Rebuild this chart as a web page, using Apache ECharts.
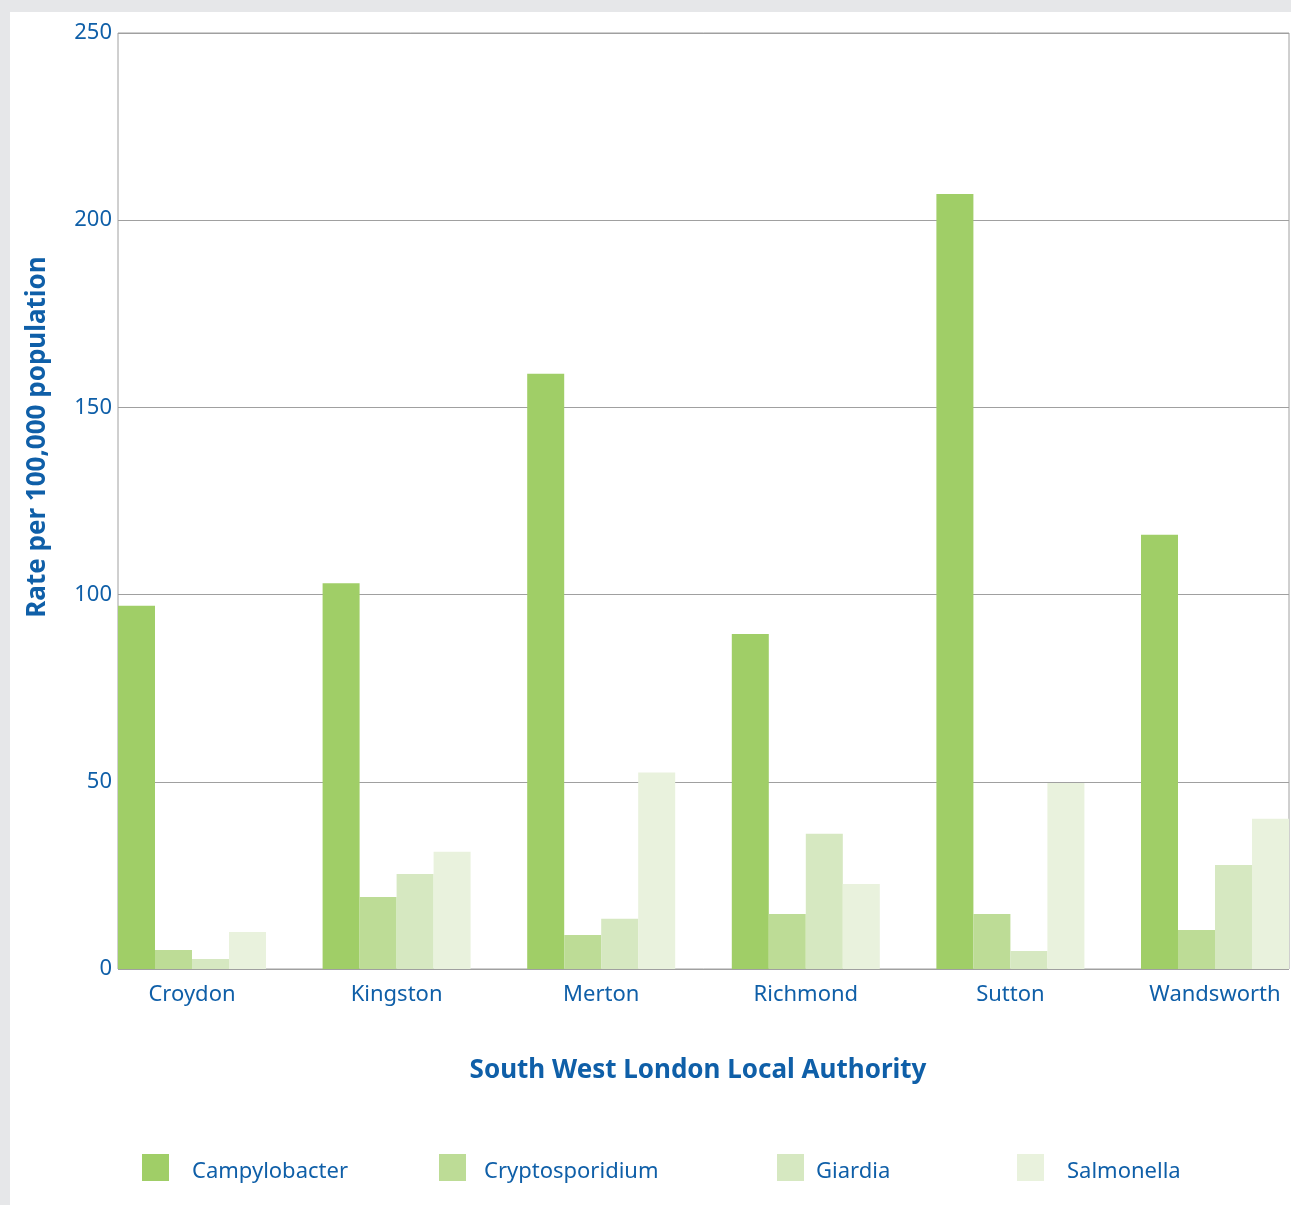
<!DOCTYPE html>
<html>
<head>
<meta charset="utf-8">
<title>Rates per 100,000 population by South West London Local Authority</title>
<script src="https://cdn.jsdelivr.net/npm/echarts@6/dist/echarts.min.js"></script>
<style>
  html, body { margin: 0; padding: 0; background: #e6e7e9; overflow: hidden; width: 1291px; height: 1205px; }
  #panel { position: absolute; left: 10px; top: 12px; width: 1281px; height: 1193px; background: #ffffff; }
  /* canvas runs past the right edge so the last bar group can reach the frame */
  #chart { position: absolute; left: 0; top: 0; width: 1360px; height: 1205px; }
</style>
</head>
<body>
<div id="panel"></div>
<div id="chart"></div>
<script>
// Local authorities along the x axis
const authorities = ['Croydon', 'Kingston', 'Merton', 'Richmond', 'Sutton', 'Wandsworth'];

// Rate per 100,000 population for each organism
const campylobacter    = [97, 103, 159, 89.5, 207, 116];
const cryptosporidium  = [5.1, 19.2, 9.1, 14.7, 14.7, 10.4];
const giardia          = [2.7, 25.4, 13.4, 36.1, 4.8, 27.8];
const salmonella       = [9.9, 31.3, 52.5, 22.7, 49.7, 40.1];

// Value axis ticks
const yTicks = [0, 50, 100, 150, 200, 250];

const seriesNames  = ['Campylobacter', 'Cryptosporidium', 'Giardia', 'Salmonella'];
const seriesData   = [campylobacter, cryptosporidium, giardia, salmonella];
const seriesColors = ['#a0ce67', '#bddc96', '#d6e8c1', '#e9f2dd'];

const BLUE = '#0f5fa8';
const FONT = '"Noto Sans", "Open Sans", sans-serif';

const chart = echarts.init(document.getElementById('chart'), null, { renderer: 'canvas' });

// Frame grid (border, gridlines, y labels) and bar grid (groups centred on labels)
const plotLeft = 118, plotTop = 33, plotWidth = 1171, plotHeight = 936;
const band = 204.6;
const barsLeft = plotLeft - (band - 148) / 2;

// Legend entries each sit at their own horizontal position
const legendSpots = [
  { left: 142, gap: 18 },
  { left: 439, gap: 13 },
  { left: 777, gap: 7 },
  { left: 1017, gap: 18 }
];

const option = {
  backgroundColor: 'transparent',
  animation: false,
  textStyle: { fontFamily: FONT },
  grid: [
    {
      left: plotLeft, top: plotTop, width: plotWidth, height: plotHeight,
      show: true, borderColor: '#a0a0a0', borderWidth: 1, backgroundColor: 'transparent'
    },
    {
      left: barsLeft, top: plotTop, width: band * authorities.length, height: plotHeight
    }
  ],
  xAxis: [
    { gridIndex: 0, type: 'value', min: 0, max: 1, show: false },
    {
      gridIndex: 1, type: 'category', data: authorities,
      axisLine: { show: false }, axisTick: { show: false }, splitLine: { show: false },
      axisLabel: { color: BLUE, fontSize: 22, fontFamily: FONT, margin: 15 }
    }
  ],
  yAxis: [
    {
      gridIndex: 0, type: 'value', min: yTicks[0], max: yTicks[yTicks.length - 1], interval: 50,
      axisLine: { show: false }, axisTick: { show: false },
      axisLabel: { color: BLUE, fontSize: 22, fontFamily: FONT, margin: 6, padding: [0, 0, 6, 0] },
      splitLine: { show: true, lineStyle: { color: '#a0a0a0', width: 1.2 } }
    },
    {
      gridIndex: 1, type: 'value', min: yTicks[0], max: yTicks[yTicks.length - 1], show: false
    }
  ],
  legend: seriesNames.map((name, i) => ({
    data: [name],
    left: legendSpots[i].left, top: 1154,
    padding: 0,
    orient: 'horizontal',
    itemWidth: 27, itemHeight: 27,
    icon: 'rect',
    selectedMode: false,
    formatter: '{t|{name}}',
    textStyle: {
      color: BLUE, fontSize: 22, fontFamily: FONT,
      padding: [0, 0, 0, legendSpots[i].gap],
      rich: { t: { color: BLUE, fontSize: 22, fontFamily: FONT, padding: [8, 0, 0, 0] } }
    }
  })),
  graphic: [
    {
      type: 'text', x: 38, y: 437, rotation: Math.PI / 2,
      style: {
        text: 'Rate per 100,000 population', fill: BLUE,
        font: 'bold 26px ' + FONT, align: 'center', verticalAlign: 'middle'
      }
    },
    {
      type: 'text', x: 698, y: 1071,
      style: {
        text: 'South West London Local Authority', fill: BLUE,
        font: 'bold 26px ' + FONT, align: 'center', verticalAlign: 'middle'
      }
    }
  ],
  series: seriesNames.map((name, i) => ({
    name: name,
    type: 'bar',
    xAxisIndex: 1, yAxisIndex: 1,
    data: seriesData[i],
    barWidth: 37,
    barGap: '0%',
    itemStyle: { color: seriesColors[i] },
    emphasis: { disabled: true }
  }))
};

chart.setOption(option);
</script>
</body>
</html>
